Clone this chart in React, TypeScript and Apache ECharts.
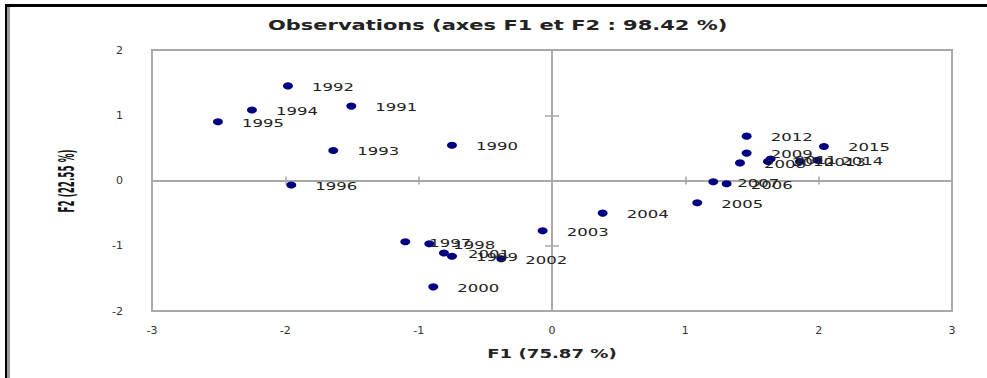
import React, { useEffect, useRef } from "react";
import * as echarts from "echarts";

const years = [
  "1990", "1991", "1992", "1993", "1994", "1995", "1996", "1997", "1998", "1999",
  "2000", "2001", "2002", "2003", "2004", "2005", "2006", "2007", "2008", "2009",
  "2010", "2011", "2012", "2013", "2014", "2015",
];
const f1Values = [
  -0.75, -1.505, -1.98, -1.64, -2.25, -2.505, -1.955, -1.1, -0.92, -0.75,
  -0.89, -0.81, -0.38, -0.07, 0.38, 1.09, 1.31, 1.21, 1.41, 1.46,
  1.62, 1.64, 1.46, 1.86, 1.99, 2.04,
];
const f2Values = [
  0.54, 1.14, 1.45, 0.46, 1.08, 0.9, -0.07, -0.94, -0.97, -1.16,
  -1.63, -1.11, -1.2, -0.77, -0.5, -0.34, -0.05, -0.02, 0.27, 0.42,
  0.29, 0.33, 0.68, 0.29, 0.31, 0.52,
];
const axisMin = -3;
const axisMax = 3;
const yMin = -2;
const yMax = 2;
const titleText = "Observations (axes F1 et F2 : 98.42 %)";
const xName = "F1 (75.87 %)";
const yName = "F2 (22.55 %)";

const LINE = "#a8a8a8";

export default function App() {
  const ref = useRef<HTMLDivElement>(null);
  useEffect(() => {
    if (!ref.current) return;
    const chart = echarts.init(ref.current, null, { renderer: "svg" });
    const points = f1Values.map((x, i) => [x, f2Values[i]]);
    const baseX = { type: "value", min: axisMin, max: axisMax, interval: 1, splitLine: { show: false } };
    const baseY = { type: "value", min: yMin, max: yMax, interval: 1, splitLine: { show: false } };
    const option: any = {
      animation: false,
      backgroundColor: "#ffffff",
      grid: {
        left: 152,
        right: 35,
        top: 50,
        bottom: 67,
        show: true,
        borderColor: LINE,
        borderWidth: 2,
        backgroundColor: "transparent",
      },
      xAxis: [
        {
          ...baseX,
          position: "bottom",
          axisLine: { show: false, onZero: false },
          axisTick: { show: false },
          axisLabel: { margin: 14, fontSize: 11, color: "#333", fontFamily: "DejaVu Sans" },
        },
        {
          ...baseX,
          position: "bottom",
          axisLine: { show: true, onZero: true, lineStyle: { color: LINE, width: 2 } },
          axisTick: { show: true, length: 4, lineStyle: { color: LINE, width: 1.5 } },
          axisLabel: { show: false },
        },
        {
          ...baseX,
          position: "bottom",
          axisLine: { show: true, onZero: true, lineStyle: { color: LINE, width: 2 } },
          axisTick: { show: true, inside: true, length: 4, lineStyle: { color: LINE, width: 1.5 } },
          axisLabel: { show: false },
        },
      ],
      yAxis: [
        {
          ...baseY,
          position: "left",
          axisLine: { show: false, onZero: false },
          axisTick: { show: false },
          axisLabel: { margin: 29, fontSize: 11, color: "#333", fontFamily: "DejaVu Sans" },
        },
        {
          ...baseY,
          position: "left",
          axisLine: { show: true, onZero: true, lineStyle: { color: LINE, width: 2 } },
          axisTick: { show: true, length: 7, lineStyle: { color: LINE, width: 1.5 } },
          axisLabel: { show: false },
        },
        {
          ...baseY,
          position: "left",
          axisLine: { show: true, onZero: true, lineStyle: { color: LINE, width: 2 } },
          axisTick: { show: true, inside: true, length: 7, lineStyle: { color: LINE, width: 1.5 } },
          axisLabel: { show: false },
        },
      ],
      series: [
        {
          type: "scatter",
          xAxisIndex: 0,
          yAxisIndex: 0,
          data: points,
          symbol: "circle",
          symbolSize: [10, 7],
          itemStyle: { color: "#000080", opacity: 1 },
          silent: true,
          z: 5,
        },
        {
          type: "custom",
          xAxisIndex: 0,
          yAxisIndex: 0,
          data: points,
          encode: { x: 0, y: 1 },
          silent: true,
          z: 6,
          renderItem: (params: any, api: any) => {
            const pt = api.coord([api.value(0), api.value(1)]);
            return {
              type: "text",
              x: pt[0] + 24,
              y: pt[1] + 1,
              scaleX: 1.5,
              style: {
                text: years[params.dataIndex],
                fontSize: 11,
                fontFamily: "DejaVu Sans",
                fill: "#222",
                align: "left",
                verticalAlign: "middle",
              },
            };
          },
        },
      ],
      graphic: [
        { type: "rect", shape: { x: 5, y: 4, width: 982, height: 3 }, style: { fill: "#000" }, silent: true },
        { type: "rect", shape: { x: 5, y: 4, width: 2, height: 374 }, style: { fill: "#000" }, silent: true },
        { type: "rect", shape: { x: 7, y: 7, width: 3, height: 371 }, style: { fill: "#9a9a9a" }, silent: true },
        {
          type: "text",
          x: 268,
          y: 25,
          scaleX: 1.5,
          style: {
            text: titleText,
            fontSize: 14,
            fontWeight: "bold",
            fontFamily: "DejaVu Sans",
            fill: "#222",
            align: "left",
            verticalAlign: "middle",
          },
          silent: true,
        },
        {
          type: "text",
          x: 552,
          y: 354,
          scaleX: 1.45,
          style: {
            text: xName,
            fontSize: 12.5,
            fontWeight: "bold",
            fontFamily: "DejaVu Sans",
            fill: "#222",
            align: "center",
            verticalAlign: "middle",
          },
          silent: true,
        },
        {
          type: "text",
          x: 67,
          y: 181,
          rotation: Math.PI / 2,
          scaleX: 0.42,
          style: {
            text: yName,
            fontSize: 21,
            fontWeight: "bold",
            fontFamily: "DejaVu Sans",
            fill: "#111",
            align: "center",
            verticalAlign: "middle",
          },
          silent: true,
        },
      ],
    };
    chart.setOption(option);
    return () => chart.dispose();
  }, []);
  return (
    <div
      ref={ref}
      style={{ position: "fixed", left: 0, top: 0, width: 987, height: 378, background: "#fff" }}
    />
  );
}
